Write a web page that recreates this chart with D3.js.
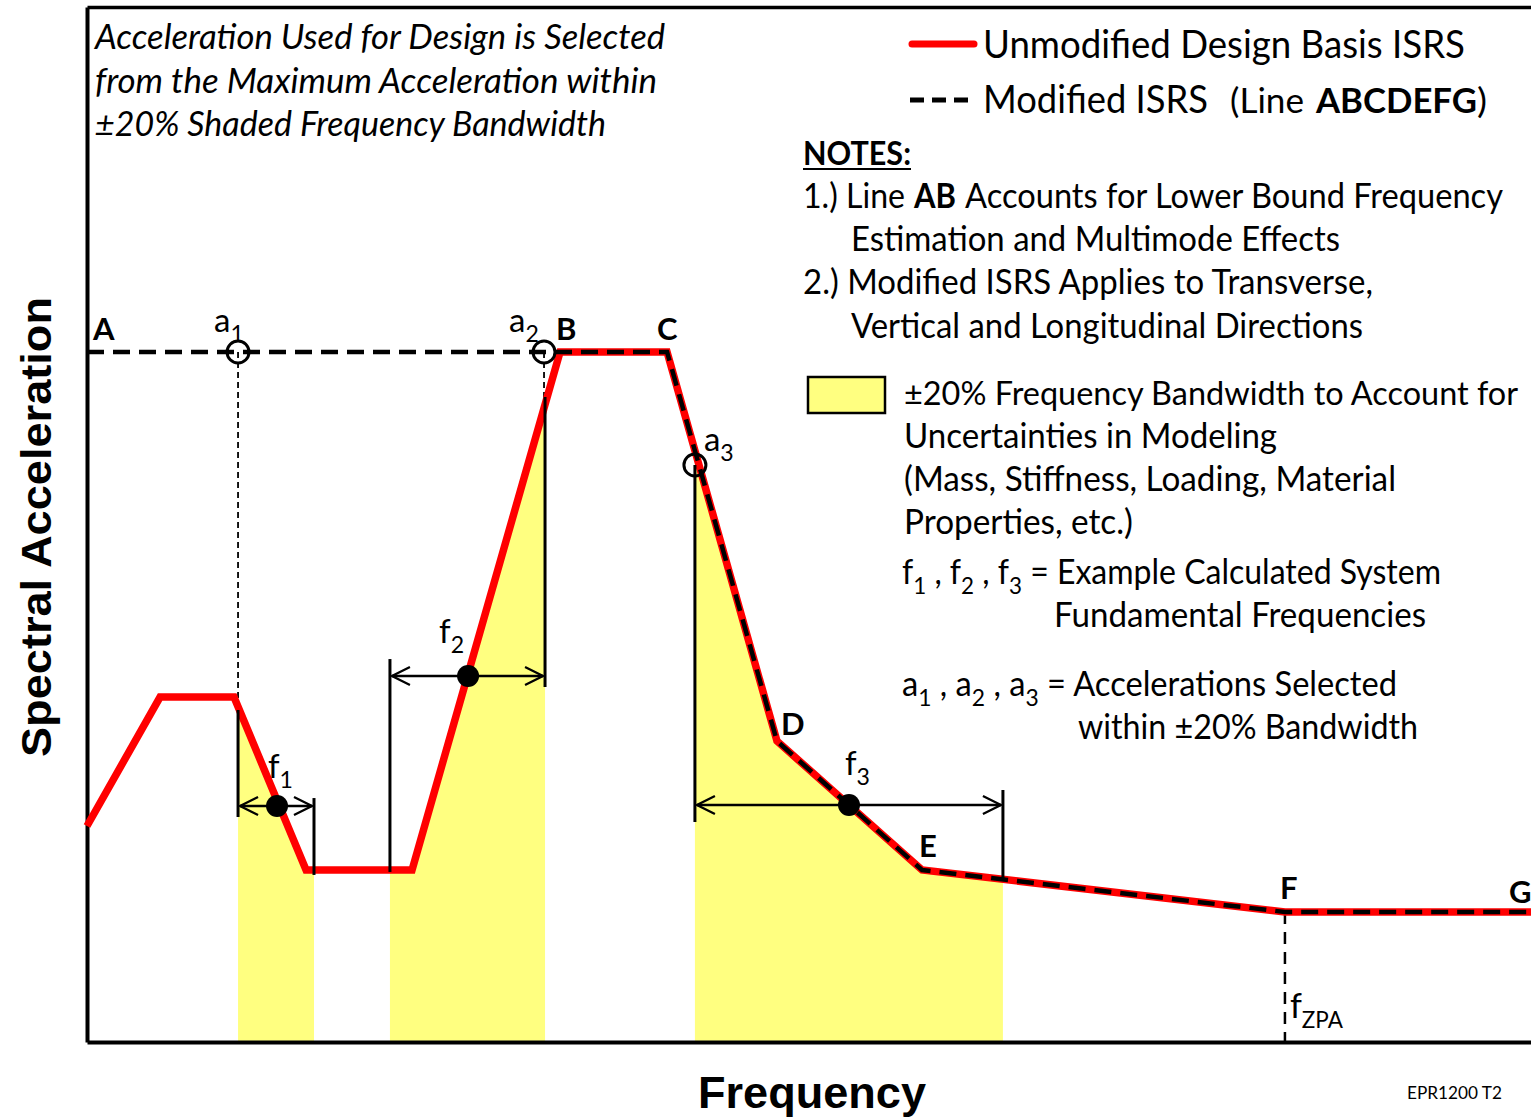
<!DOCTYPE html>
<html><head><meta charset="utf-8">
<script src="https://cdn.jsdelivr.net/npm/d3@7"></script>
<style>body{margin:0;background:#fff;overflow:hidden} svg{display:block}</style>
</head><body>
<script>
// ---------------- data (arbitrary frequency / acceleration units 0-100) ----------------
const curveFreq  = [0, 5.06, 10.18, 15.17, 22.51, 32.76, 40.17, 47.78, 57.83, 82.96, 100];
const curveAccel = [20.87, 33.33, 33.33, 16.62, 16.62, 66.67, 66.67, 29.08, 16.62, 12.56, 12.56];
const modFreq    = [0, 32.76, 40.17, 47.78, 57.83, 82.96, 100];
const modAccel   = [66.67, 66.67, 66.67, 29.08, 16.62, 12.56, 12.56];
const modLabels  = ["A", "B", "C", "D", "E", "F", "G"];
const bandLow    = [10.46, 20.98, 42.10];
const bandHigh   = [15.72, 31.72, 63.43];
const sysFreq    = [13.16, 26.39, 52.77];          // f1, f2, f3
const sysAccel   = [22.80, 35.36, 22.90];
const sysNames   = ["1", "2", "3"];
const selFreq    = [10.46, 31.65, 42.10];          // a1, a2, a3
const selAccel   = [66.67, 66.67, 55.75];
const lowTop     = [32.08, 37.00, 55.75];          // bracket line at lower band edge
const lowBottom  = [21.74, 16.43, 21.26];
const highTop    = [23.57, 62.32, 24.35];          // bracket line at upper band edge
const highBottom = [16.14, 34.30, 15.85];
const fZPA = 82.96;

// ---------------- setup ----------------
const W = 1531, H = 1119;
const svg = d3.select("body").append("svg").attr("width", W).attr("height", H);
const x = d3.scaleLinear().domain([0, 100]).range([87, 1531]);
const y = d3.scaleLinear().domain([0, 100]).range([1042, 7]);
const SANS = "Lato, 'Open Sans', sans-serif";

function accelAt(f) {
  for (let i = 0; i < curveFreq.length - 1; i++) {
    if (f >= curveFreq[i] && f <= curveFreq[i + 1]) {
      const t = (f - curveFreq[i]) / (curveFreq[i + 1] - curveFreq[i]);
      return curveAccel[i] + t * (curveAccel[i + 1] - curveAccel[i]);
    }
  }
  return curveAccel[curveAccel.length - 1];
}

// ---------------- shaded bands (area under the ISRS within ±20%) ----------------
const area = d3.area().x(d => x(d[0])).y0(y(0)).y1(d => y(d[1]));
bandLow.forEach((lo, i) => {
  const hi = bandHigh[i];
  const pts = [[lo, accelAt(lo)]];
  curveFreq.forEach(f => { if (f > lo && f < hi) pts.push([f, accelAt(f)]); });
  pts.push([hi, accelAt(hi)]);
  svg.append("path").attr("d", area(pts)).attr("fill", "#ffff80");
});

// ---------------- axes frame ----------------
const axB = svg.append("g").attr("transform", `translate(0,${y(0)})`)
  .call(d3.axisBottom(x).ticks(0).tickSize(0).tickSizeOuter(0));
const axT = svg.append("g").attr("transform", `translate(0,${y(100)})`)
  .call(d3.axisTop(x).ticks(0).tickSize(0).tickSizeOuter(0));
const axL = svg.append("g").attr("transform", `translate(${x(0)},0)`)
  .call(d3.axisLeft(y).ticks(0).tickSize(0).tickSizeOuter(0));
[axB, axT, axL].forEach(a => a.select(".domain").attr("stroke", "#000").attr("stroke-width", 4));
axT.select(".domain").attr("stroke-width", 3.5);

// ---------------- thin dashed drop lines ----------------
selFreq.slice(0, 2).forEach((f, i) => {
  svg.append("line").attr("x1", x(f)).attr("x2", x(f))
    .attr("y1", y(selAccel[i])).attr("y2", y(i === 0 ? lowTop[0] : highTop[1]))
    .attr("stroke", "#000").attr("stroke-width", 1.8).attr("stroke-dasharray", "6,4");
});
svg.append("line").attr("x1", x(fZPA)).attr("x2", x(fZPA))
  .attr("y1", y(12.56)).attr("y2", y(0))
  .attr("stroke", "#000").attr("stroke-width", 2.5).attr("stroke-dasharray", "12,8");

// ---------------- curves ----------------
const line = d3.line().x(d => x(d[0])).y(d => y(d[1]));
svg.append("path").attr("d", line(curveFreq.map((f, i) => [f, curveAccel[i]])))
  .attr("fill", "none").attr("stroke", "#ff0000").attr("stroke-width", 7.5)
  .attr("stroke-linejoin", "miter");
svg.append("path").attr("d", line(modFreq.map((f, i) => [f, modAccel[i]])))
  .attr("fill", "none").attr("stroke", "#000").attr("stroke-width", 4.5)
  .attr("stroke-dasharray", "17,9");

// ---------------- band bracket lines ----------------
bandLow.forEach((lo, i) => {
  svg.append("line").attr("x1", x(lo)).attr("x2", x(lo)).attr("y1", y(lowTop[i])).attr("y2", y(lowBottom[i]))
    .attr("stroke", "#000").attr("stroke-width", 3);
  svg.append("line").attr("x1", x(bandHigh[i])).attr("x2", x(bandHigh[i])).attr("y1", y(highTop[i])).attr("y2", y(highBottom[i]))
    .attr("stroke", "#000").attr("stroke-width", 3);
});

// ---------------- arrows + calculated frequency dots ----------------
sysFreq.forEach((f, i) => {
  const yy = y(sysAccel[i]);
  const x1 = x(bandLow[i]) + 2, x2 = x(bandHigh[i]) - 2;
  const g = svg.append("g").attr("fill", "none").attr("stroke", "#000").attr("stroke-width", 2.3);
  g.append("line").attr("x1", x1).attr("x2", x2).attr("y1", yy).attr("y2", yy);
  g.append("path").attr("d", `M${x1 + 18},${yy - 9}L${x1},${yy}L${x1 + 18},${yy + 9}`);
  g.append("path").attr("d", `M${x2 - 18},${yy - 9}L${x2},${yy}L${x2 - 18},${yy + 9}`);
  svg.append("circle").attr("cx", x(f)).attr("cy", yy).attr("r", 11).attr("fill", "#000");
});

// ---------------- selected acceleration circles ----------------
selFreq.forEach((f, i) => {
  svg.append("circle").attr("cx", x(f)).attr("cy", y(selAccel[i])).attr("r", 11)
    .attr("fill", "none").attr("stroke", "#000").attr("stroke-width", 3);
});

// ---------------- text helper ----------------
function rich(px, py, size, parts, opts = {}) {
  const t = svg.append("text").attr("x", px).attr("y", py)
    .attr("font-family", opts.family || SANS).attr("font-size", size)
    .attr("font-style", opts.italic ? "italic" : "normal")
    .attr("font-weight", opts.bold ? "bold" : "normal").attr("fill", "#000");
  if (opts.anchor) t.attr("text-anchor", opts.anchor);
  let shifted = 0;
  parts.forEach(p => {
    const s = typeof p === "string" ? { t: p } : p;
    const ts = t.append("tspan").text(s.t);
    const target = s.sub ? Math.round(size * (s.shift || 0.3)) : 0;
    if (target !== shifted) { ts.attr("dy", target - shifted); shifted = target; }
    if (s.sub) ts.attr("font-size", size * (s.scale || 0.7));
    if (s.bold) ts.attr("font-weight", "bold");
  });
  if (opts.width) t.attr("textLength", opts.width).attr("lengthAdjust", "spacingAndGlyphs");
  return t;
}

// ---------------- point labels ----------------
const labelOff = [[6, -12], [-4, -12], [-10, -12], [4, -6], [-3, -13], [-5, -13], [-22, -9]];
modLabels.forEach((l, i) => {
  rich(x(modFreq[i]) + labelOff[i][0], y(modAccel[i]) + labelOff[i][1], 31, [l], { bold: true });
});
// a1 a2 a3
const aOff = [[-24, -20], [-35, -20], [9, -14]];
selFreq.forEach((f, i) => {
  rich(x(f) + aOff[i][0], y(selAccel[i]) + aOff[i][1], 33, ["a", { t: sysNames[i], sub: true }]);
});
// f1 f2 f3
const fOff = [[-9, -28], [-29, -33], [-4, -30]];
sysFreq.forEach((f, i) => {
  rich(x(f) + fOff[i][0], y(sysAccel[i]) + fOff[i][1], 33, ["f", { t: sysNames[i], sub: true }]);
});
rich(x(fZPA) + 5, 1018, 34, ["f", { t: "ZPA", sub: true, shift: 0.3, scale: 0.66 }]);

// ---------------- top-left italic note ----------------
rich(95, 49, 35, ["Acceleration Used for Design is Selected"], { italic: true, width: 570 });
rich(95, 93, 35, ["from the Maximum Acceleration within"], { italic: true, width: 562 });
rich(95, 136, 35, ["±20% Shaded Frequency Bandwidth"], { italic: true, width: 511 });

// ---------------- legend ----------------
svg.append("line").attr("x1", 912).attr("x2", 974).attr("y1", 44).attr("y2", 44)
  .attr("stroke", "#ff0000").attr("stroke-width", 7).attr("stroke-linecap", "round");
svg.append("line").attr("x1", 910).attr("x2", 968).attr("y1", 100).attr("y2", 100)
  .attr("stroke", "#000").attr("stroke-width", 5).attr("stroke-dasharray", "14,8");
rich(983, 58, 38, ["Unmodified Design Basis ISRS"], { width: 482 });
rich(983, 113, 38, ["Modified ISRS"], { width: 225 });
rich(1230, 113, 34, ["(Line"], { width: 74 });
rich(1316, 113, 34, ["ABCDEFG"], { bold: true, width: 161 });
rich(1477, 113, 34, [")"], { width: 10 });

// ---------------- notes ----------------
rich(803, 165, 33, ["NOTES:"], { bold: true, width: 108 });
svg.append("line").attr("x1", 803).attr("x2", 911).attr("y1", 169).attr("y2", 169)
  .attr("stroke", "#000").attr("stroke-width", 2);
rich(803, 208, 34, ["1.) Line"], { width: 102 });
rich(914, 208, 34, ["AB"], { bold: true, width: 42 });
rich(965, 208, 34, ["Accounts for Lower Bound Frequency"], { width: 538 });
rich(851, 251, 34, ["Estimation and Multimode Effects"], { width: 489 });
rich(803, 294, 34, ["2.) Modified ISRS Applies to Transverse,"], { width: 570 });
rich(851, 338, 34, ["Vertical and Longitudinal Directions"], { width: 512 });

svg.append("rect").attr("x", 808).attr("y", 377).attr("width", 77).attr("height", 36)
  .attr("fill", "#ffff80").attr("stroke", "#000").attr("stroke-width", 2.5);
rich(904, 405, 33, ["±20% Frequency Bandwidth to Account for"], { width: 614 });
rich(904, 448, 34, ["Uncertainties in Modeling"], { width: 373 });
rich(904, 491, 34, ["(Mass, Stiffness, Loading, Material"], { width: 492 });
rich(904, 534, 34, ["Properties, etc.)"], { width: 229 });
rich(902, 584, 34, ["f", { t: "1", sub: true }, " , f", { t: "2", sub: true }, " , f", { t: "3", sub: true }, " = Example Calculated System"], { width: 539 });
rich(1054, 627, 34, ["Fundamental Frequencies"], { width: 372 });
rich(902, 696, 34, ["a", { t: "1", sub: true }, " , a", { t: "2", sub: true }, " , a", { t: "3", sub: true }, " = Accelerations Selected"], { width: 495 });
rich(1078, 739, 34, ["within ±20% Bandwidth"], { width: 340 });

// ---------------- axis titles ----------------
rich(812, 1108, 44, ["Frequency"], { bold: true, anchor: "middle", family: "'Liberation Sans', Arial, sans-serif", width: 228 });
svg.append("text").attr("transform", "translate(51,527) rotate(-90)")
  .attr("text-anchor", "middle").attr("font-family", "'Liberation Sans', Arial, sans-serif")
  .attr("font-weight", "bold").attr("font-size", 42).attr("textLength", 460)
  .attr("lengthAdjust", "spacingAndGlyphs").text("Spectral Acceleration");
rich(1407, 1099, 16.5, ["EPR1200 T2"], { width: 95 });
</script>
</body></html>
